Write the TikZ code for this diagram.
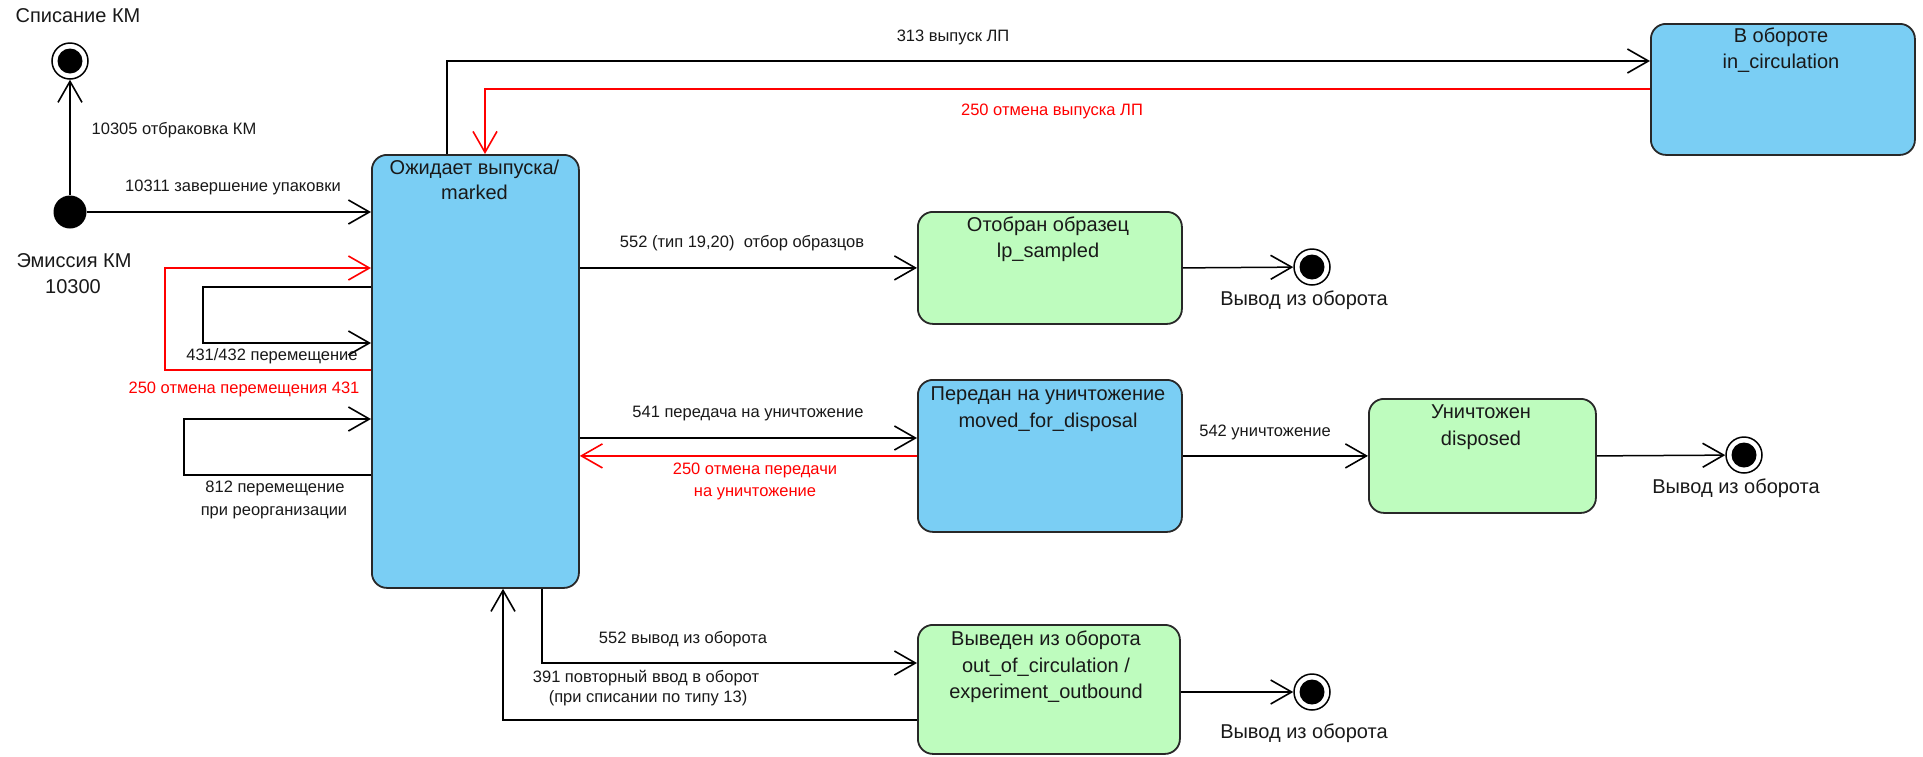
\documentclass[tikz,border=0pt]{standalone}
\usepackage{fontspec}
\setmainfont{Liberation Sans}
\usetikzlibrary{arrows.meta}
\definecolor{stblue}{RGB}{122,206,244}
\definecolor{stgreen}{RGB}{190,252,190}
\definecolor{edgec}{RGB}{40,40,40}
\definecolor{txt}{RGB}{25,25,25}
\definecolor{redc}{RGB}{255,0,0}
\begin{document}
\begin{tikzpicture}[x=1pt,y=-1pt,
  state/.style={draw=edgec, line width=1.8pt, rounded corners=15pt, inner sep=0pt, anchor=north west},
  bluestate/.style={state, fill=stblue},
  greenstate/.style={state, fill=stgreen},
  big/.style={font=\fontsize{20}{24}\selectfont, text=txt, inner sep=0pt, text height=14.4pt, text depth=4pt},
  lab/.style={font=\fontsize{16.5}{20}\selectfont, text=txt, inner sep=0pt, text height=11.9pt, text depth=3.3pt},
  redlab/.style={lab, text=redc},
  conn/.style={line width=1.5pt, -{Straight Barb[length=21pt,width=24pt,line width=1.6pt]}},
  redconn/.style={conn, draw=redc},
  finalst/.style={circle, draw=black, line width=1.5pt, fill=white, minimum size=36pt, inner sep=0pt,
    path picture={\fill[black] (path picture bounding box.center) circle[radius=12.5pt];}},
  initst/.style={circle, fill=black, minimum size=33pt, inner sep=0pt}
]
\useasboundingbox[fill=white] (0,0) rectangle (1923,756);

% states
\node[bluestate, minimum width=207pt, minimum height=433pt] (m) at (371,154) {};
\node[bluestate, minimum width=264pt, minimum height=131pt] (ic) at (1650,23) {};
\node[greenstate, minimum width=264pt, minimum height=112pt] (s) at (917,211) {};
\node[bluestate, minimum width=264pt, minimum height=152pt] (mv) at (917,379) {};
\node[greenstate, minimum width=227pt, minimum height=114pt] (d) at (1368,398) {};
\node[greenstate, minimum width=262pt, minimum height=129pt] (o) at (917,624) {};

% pseudo states
\node[initst] (init) at (70,212) {};
\node[finalst] (f0) at (70,61) {};
\node[finalst] (f1) at (1312,267) {};
\node[finalst] (f2) at (1744,455) {};
\node[finalst] (f3) at (1312,692) {};

% state texts
\node[big] (mt1) at (474.5,169) {Ожидает выпуска/};
\node[big] (mt2) at (474.5,194) {marked};
\node[big] (ict1) at (1781,37) {В обороте};
\node[big] (ict2) at (1781,63) {in\_circulation};
\node[big] (st1) at (1048,226) {Отобран образец};
\node[big] (st2) at (1048,252) {lp\_sampled};
\node[big] (mvt1) at (1048,395) {Передан на уничтожение};
\node[big] (mvt2) at (1048,422) {moved\_for\_disposal};
\node[big] (dt1) at (1481,413) {Уничтожен};
\node[big] (dt2) at (1481,440) {disposed};
\node[big] (ot1) at (1046,640) {Выведен из оборота};
\node[big] (ot2) at (1046,667) {out\_of\_circulation /};
\node[big] (ot3) at (1046,693) {experiment\_outbound};

% pseudo state names
\node[big] (n0) at (78,17) {Списание КМ};
\node[big] (n1a) at (74,262) {Эмиссия КМ};
\node[big] (n1b) at (73,288) {10300};
\node[big] (n2) at (1304,300) {Вывод из оборота};
\node[big] (n3) at (1736,488) {Вывод из оборота};
\node[big] (n4) at (1304,733) {Вывод из оборота};

% connectors
\coordinate (a313) at ([yshift=-38pt]ic.north west);
\coordinate (r250) at ([yshift=-66pt]ic.north west);
\coordinate (a541) at ([yshift=-59pt]mv.north west);
\coordinate (a552) at ([yshift=-39pt]o.north west);
\coordinate (a391) at ([yshift=-96pt]o.north west);

\draw[conn] (init) -- (init -| m.west);
\draw[conn] (init) -- (f0);
\draw[conn] ([xshift=76pt]m.north west) |- (a313);
\draw[redconn] (r250) -| ([xshift=114pt]m.north west);
\draw[redconn] ([yshift=-216pt]m.north west) -- ++(-206,0) |- ([yshift=-114pt]m.north west);
\draw[conn] ([yshift=-133pt]m.north west) -- ++(-168,0) |- ([yshift=-189pt]m.north west);
\draw[conn] ([yshift=-321pt]m.north west) -- ++(-187,0) |- ([yshift=-265pt]m.north west);
\draw[conn] (m.east |- s.west) -- (s.west);
\draw[conn] (s.east) -- (f1);
\draw[conn] (m.east |- a541) -- (a541);
\draw[redconn] (mv.west) -- (m.east |- mv.west);
\draw[conn] (mv.east) -- (d.west);
\draw[conn] (d.east) -- (f2);
\draw[conn] ([xshift=171pt]m.south west) |- (a552);
\draw[conn] (a391) -| ([xshift=132pt]m.south west);
\draw[conn] (o.east |- f3) -- (f3);

% labels
\node[lab] (l1) at (174,130) {10305 отбраковка КМ};
\node[lab] (l2) at (233,187) {10311 завершение упаковки};
\node[lab] (l3) at (272,356) {431/432 перемещение};
\node[redlab] (l4) at (244,389) {250 отмена перемещения 431};
\node[lab] (l5a) at (275,488) {812 перемещение};
\node[lab] (l5b) at (274,511) {при реорганизации};
\node[lab] (l6) at (953,37) {313 выпуск ЛП};
\node[redlab] (l7) at (1052,111) {250 отмена выпуска ЛП};
\node[lab] (l8) at (742,243) {552 (тип 19,20)\ \ отбор образцов};
\node[lab] (l9) at (748,413) {541 передача на уничтожение};
\node[redlab] (l10a) at (755,470) {250 отмена передачи};
\node[redlab] (l10b) at (755,492) {на уничтожение};
\node[lab] (l11) at (1265,432) {542 уничтожение};
\node[lab] (l12) at (683,639) {552 вывод из оборота};
\node[lab] (l13a) at (646,678) {391 повторный ввод в оборот};
\node[lab] (l13b) at (648,698) {(при списании по типу 13)};
\end{tikzpicture}
\end{document}
